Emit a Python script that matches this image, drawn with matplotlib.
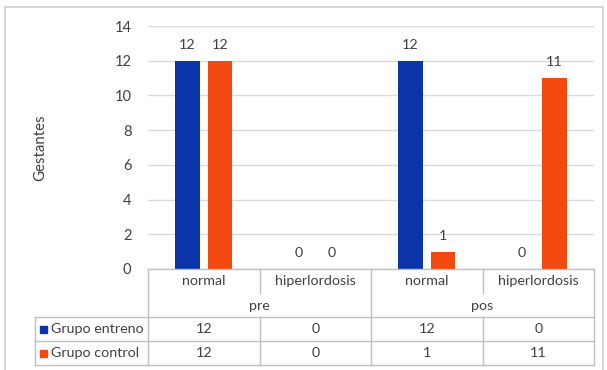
import matplotlib
matplotlib.use("Agg")
import matplotlib.pyplot as plt
from matplotlib.lines import Line2D
from matplotlib.patches import Rectangle
import matplotlib.transforms as mtransforms

plt.rcParams['font.family'] = ['Lato', 'DejaVu Sans']

# ---- data ----
subcats = ["normal", "hiperlordosis", "normal", "hiperlordosis"]
groups = ["pre", "pos"]
series_names = ["Grupo entreno", "Grupo control"]
entreno = [12, 0, 12, 0]
control = [12, 0, 1, 11]
colors = ["#0a34a8", "#f24a0e"]
yticks = [0, 2, 4, 6, 8, 10, 12, 14]

W, H = 607, 370
fig = plt.figure(figsize=(W / 100, H / 100), dpi=100)

def fx(px):
    return px / W

def fy(py):
    return 1 - py / H

# outer border
for xs, ys in [((5, 5), (7, 372)), ((5, 603), (7, 7)), ((603, 603), (7, 372))]:
    fig.add_artist(Line2D([fx(x) for x in xs], [fy(y) for y in ys], color="#d0d0d0", lw=1.2))

ax_left, ax_right, ax_top, ax_bot = 148, 594, 26, 269
ax = fig.add_axes([fx(ax_left), fy(ax_bot), fx(ax_right - ax_left), (ax_bot - ax_top) / H])
n = len(subcats)
x = list(range(n))
bw = 0.22
off = 0.145
series = [entreno, control]
for s, (vals, c) in enumerate(zip(series, colors)):
    xs = [i + (off if s else -off) for i in x]
    bars = ax.bar(xs, vals, width=bw, color=c, zorder=3)
    for xi, v in zip(xs, vals):
        ax.annotate(str(v), (xi, v), xytext=(0, 7), textcoords="offset points",
                    ha="center", va="bottom", fontsize=10.3, color="#404040")

ax.set_xlim(-0.5, n - 0.5)
ax.set_ylim(0, 14)
ax.set_yticks(yticks)
ax.set_xticks([])
ax.yaxis.grid(True, color="#d9d9d9", lw=1, zorder=0)
for sp in ax.spines.values():
    sp.set_visible(False)
ax.tick_params(axis="y", length=0, pad=12, labelsize=10.5, labelcolor="#404040")
fig.text(fx(40), fy(148), "Gestantes", rotation=90, ha="center", va="center",
         fontsize=10.8, color="#404040")

# ---- data table ----
trans = mtransforms.blended_transform_factory(ax.transData, fig.transFigure)
lc = "#bfbfbf"
lw = 1.0
y0, y_cat, y_grp, y_r1, y_r2 = 269, 293, 317, 341, 365
leg_left = -0.5 - (ax_left - 35) / ((ax_right - ax_left) / n)
right = n - 0.5

def hline(x1, x2, y):
    fig.add_artist(Line2D([x1, x2], [fy(y), fy(y)], transform=trans, color=lc, lw=lw))

def vline(xv, ya, yb):
    fig.add_artist(Line2D([xv, xv], [fy(ya), fy(yb)], transform=trans, color=lc, lw=lw))

hline(-0.5, right, y0)
hline(leg_left, right, y_grp)
hline(leg_left, right, y_r1)
hline(leg_left, right, y_r2)
vline(-0.5, y0, y_r2)
vline(right, y0, y_r2)
vline(leg_left, y_grp, y_r2)
ng = len(groups)
per = n // ng
for i in range(1, n):
    if i % per == 0:
        vline(i - 0.5, y0, y_r2)
    else:
        vline(i - 0.5, y0, y_cat)
        vline(i - 0.5, y_grp, y_r2)

tkw = dict(transform=trans, ha="center", va="center", fontsize=10.3, color="#404040")
for i, lab in enumerate(subcats):
    fig.text(i, fy((y0 + y_cat) / 2), lab, **tkw)
for g, lab in enumerate(groups):
    fig.text(g * per + (per - 1) / 2, fy((y_cat + y_grp) / 2 + 1), lab, **tkw)
rows_y = [(y_grp + y_r1) / 2, (y_r1 + y_r2) / 2]
for r, (vals, name, c) in enumerate(zip(series, series_names, colors)):
    yy = fy(rows_y[r])
    for i, v in enumerate(vals):
        fig.text(i, yy, str(v), **tkw)
    fig.add_artist(Rectangle((fx(40), yy - 3.5 / H), 7 / W, 7 / H, transform=fig.transFigure,
                             color=c))
    fig.text(fx(51), yy, name, transform=fig.transFigure, ha="left", va="center",
             fontsize=10.3, color="#404040")

fig.savefig("out.png", dpi=100)
